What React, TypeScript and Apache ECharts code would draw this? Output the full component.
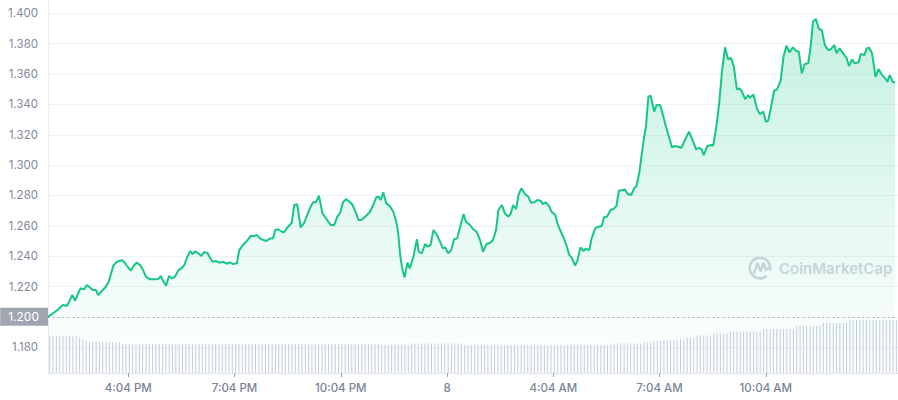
import React, { useEffect, useRef } from "react";
import * as echarts from "echarts";

// Minutes after 13:48 (start of the 24h window)
const TIMES = [
  0, 12, 17, 25, 32, 36, 41, 46, 50, 55,
  61, 66, 71, 76, 81, 85, 91, 98, 103, 106,
  111, 117, 125, 130, 134, 140, 145, 150, 156, 161,
  166, 173, 181, 187, 191, 195, 200, 205, 210, 215,
  221, 226, 231, 235, 241, 245, 249, 255, 260, 264,
  270, 274, 279, 285, 290, 297, 303, 308, 314, 320,
  324, 330, 337, 343, 348, 354, 359, 365, 370, 376,
  381, 385, 390, 396, 400, 405, 413, 417, 422, 428,
  434, 439, 445, 449, 454, 459, 465, 472, 479, 485,
  490, 495, 500, 505, 512, 516, 522, 526, 531, 539,
  545, 551, 556, 560, 564, 568, 573, 579, 585, 590,
  593, 597, 600, 604, 609, 613, 619, 625, 628, 633,
  639, 643, 648, 653, 658, 663, 669, 673, 678, 683,
  688, 693, 699, 704, 708, 715, 720, 726, 732, 737,
  743, 749, 754, 759, 763, 769, 774, 780, 784, 788,
  793, 797, 802, 808, 814, 818, 824, 829, 835, 838,
  843, 849, 853, 859, 864, 869, 874, 879, 883, 887,
  893, 897, 902, 907, 911, 917, 921, 927, 932, 938,
  942, 947, 953, 959, 963, 967, 974, 977, 982, 988,
  993, 997, 1002, 1006, 1010, 1013, 1017, 1021, 1027, 1031,
  1037, 1041, 1047, 1052, 1057, 1062, 1068, 1073, 1079, 1083,
  1086, 1092, 1098, 1103, 1107, 1111, 1117, 1123, 1127, 1133,
  1137, 1142, 1147, 1152, 1157, 1162, 1167, 1171, 1175, 1181,
  1186, 1189, 1195, 1201, 1206, 1212, 1216, 1220, 1224, 1230,
  1235, 1241, 1246, 1251, 1256, 1262, 1267, 1272, 1277, 1282,
  1288, 1292, 1296, 1301, 1306, 1311, 1316, 1322, 1326, 1332,
  1336, 1341, 1347, 1353, 1357, 1362, 1367, 1373, 1377, 1383,
  1387, 1391, 1396, 1402, 1407, 1412, 1418, 1422, 1426, 1431,
  1435,
];

const PRICES = [
  1.2000, 1.2034, 1.2049, 1.2078, 1.2073, 1.2100, 1.2144, 1.2106, 1.2144, 1.2188,
  1.2181, 1.2210, 1.2194, 1.2177, 1.2177, 1.2144, 1.2170, 1.2198, 1.2231, 1.2275,
  1.2341, 1.2363, 1.2374, 1.2357, 1.2335, 1.2304, 1.2335, 1.2357, 1.2341, 1.2308,
  1.2264, 1.2247, 1.2247, 1.2249, 1.2269, 1.2238, 1.2205, 1.2269, 1.2254, 1.2264,
  1.2308, 1.2320, 1.2341, 1.2386, 1.2434, 1.2414, 1.2432, 1.2418, 1.2401, 1.2425,
  1.2422, 1.2392, 1.2363, 1.2368, 1.2357, 1.2363, 1.2350, 1.2359, 1.2348, 1.2353,
  1.2440, 1.2473, 1.2500, 1.2532, 1.2532, 1.2539, 1.2517, 1.2506, 1.2500, 1.2517,
  1.2517, 1.2572, 1.2577, 1.2561, 1.2557, 1.2587, 1.2620, 1.2737, 1.2743, 1.2590,
  1.2620, 1.2671, 1.2726, 1.2755, 1.2755, 1.2798, 1.2682, 1.2643, 1.2605, 1.2605,
  1.2660, 1.2686, 1.2757, 1.2776, 1.2755, 1.2737, 1.2682, 1.2638, 1.2638, 1.2666,
  1.2689, 1.2737, 1.2788, 1.2791, 1.2770, 1.2820, 1.2748, 1.2730, 1.2693, 1.2627,
  1.2561, 1.2396, 1.2320, 1.2260, 1.2357, 1.2320, 1.2396, 1.2511, 1.2429, 1.2418,
  1.2480, 1.2462, 1.2473, 1.2572, 1.2546, 1.2506, 1.2451, 1.2458, 1.2418, 1.2440,
  1.2511, 1.2517, 1.2605, 1.2677, 1.2627, 1.2605, 1.2579, 1.2561, 1.2506, 1.2429,
  1.2480, 1.2488, 1.2506, 1.2572, 1.2704, 1.2737, 1.2682, 1.2660, 1.2682, 1.2737,
  1.2710, 1.2803, 1.2847, 1.2809, 1.2791, 1.2752, 1.2755, 1.2770, 1.2763, 1.2743,
  1.2755, 1.2730, 1.2693, 1.2675, 1.2605, 1.2561, 1.2517, 1.2462, 1.2407, 1.2392,
  1.2337, 1.2374, 1.2458, 1.2434, 1.2449, 1.2440, 1.2517, 1.2583, 1.2594, 1.2598,
  1.2656, 1.2660, 1.2704, 1.2715, 1.2730, 1.2831, 1.2836, 1.2840, 1.2809, 1.2803,
  1.2847, 1.2862, 1.2956, 1.3077, 1.3187, 1.3253, 1.3450, 1.3457, 1.3352, 1.3396,
  1.3396, 1.3341, 1.3253, 1.3187, 1.3117, 1.3126, 1.3121, 1.3114, 1.3165, 1.3198,
  1.3220, 1.3165, 1.3104, 1.3114, 1.3106, 1.3066, 1.3126, 1.3132, 1.3128, 1.3275,
  1.3407, 1.3626, 1.3776, 1.3697, 1.3707, 1.3648, 1.3499, 1.3506, 1.3490, 1.3435,
  1.3462, 1.3444, 1.3466, 1.3374, 1.3336, 1.3352, 1.3286, 1.3292, 1.3363, 1.3490,
  1.3499, 1.3554, 1.3714, 1.3787, 1.3743, 1.3776, 1.3754, 1.3747, 1.3605, 1.3666,
  1.3671, 1.3780, 1.3945, 1.3963, 1.3897, 1.3890, 1.3791, 1.3758, 1.3763, 1.3791,
  1.3737, 1.3769, 1.3737, 1.3704, 1.3653, 1.3697, 1.3671, 1.3677, 1.3732, 1.3725,
  1.3769, 1.3773, 1.3737, 1.3582, 1.3633, 1.3600, 1.3572, 1.3549, 1.3593, 1.3549,
  1.3543,
];

// Volume bars (relative units)
const VOLUMES = [
  37, 37, 37, 37, 37, 37, 37, 37, 37, 35, 33.5, 32, 31, 31, 31, 31,
  31, 31, 31, 31, 31, 31, 29, 29, 29, 29, 29, 29, 29, 29, 29, 29,
  29, 29, 29, 29, 29, 29, 29, 29, 29, 29, 29, 29, 29, 29, 29, 29,
  29, 29, 29, 29, 29, 29, 29, 29, 29, 29, 29, 29, 29, 29, 29, 29,
  29, 29, 29, 29, 29, 29, 29, 29, 29, 29, 29, 29, 29, 29, 29, 29,
  29, 29, 29, 29, 29, 29, 29, 29, 29, 29, 29, 29, 29, 29, 29, 29,
  29, 29, 29, 29, 28, 28, 28, 28, 28, 28, 28, 28, 28, 29.5, 29.5, 29.5,
  29.5, 29.5, 29.5, 29.5, 29.5, 29.5, 29.5, 29.5, 29.5, 29.5, 29.5, 29.5, 29.5, 28, 28, 28,
  28, 28, 28, 28, 28, 28, 28, 28, 28, 28, 28, 28, 28, 28, 28, 28,
  28, 28, 28, 28, 28, 28, 28, 28, 28, 28, 28, 28, 28, 28, 28, 28,
  28, 28, 28, 28, 28, 28, 28, 28, 28, 28, 29.5, 29.5, 29.5, 29.5, 29.5, 29.5,
  29.5, 29.5, 29.5, 30.5, 30.5, 30.5, 32, 32, 32, 33, 33, 33, 33, 34, 34, 34,
  35.5, 35.5, 35.5, 37.5, 37.5, 37.5, 37.5, 37.5, 39.5, 39.5, 39.5, 39.5, 39.5, 41.5, 41.5, 41.5,
  41.5, 41.5, 41.5, 41.5, 41.5, 41.5, 41.5, 44, 44, 44, 44, 44, 44, 44, 44, 44,
  44, 47, 47, 47, 47, 47, 47, 47, 47, 50, 50, 50, 50, 50, 50, 50,
  50, 53, 53, 53, 53, 53, 53, 53, 53, 53, 53, 53, 53, 53, 53, 53,
];

const OPEN_PRICE = 1.2;
const Y_TICKS = [1.18, 1.2, 1.22, 1.24, 1.26, 1.28, 1.3, 1.32, 1.34, 1.36, 1.38, 1.4];
const Y_LABELS = [1.18, 1.22, 1.24, 1.26, 1.28, 1.3, 1.32, 1.34, 1.36, 1.38, 1.4];
const X_TICKS = [136, 316, 496, 676, 856, 1036, 1216];
const X_TICK_LABELS = ["4:04 PM", "7:04 PM", "10:04 PM", "8", "4:04 AM", "7:04 AM", "10:04 AM"];

const FONT = 'Inter, "Noto Sans", sans-serif';
const LABEL_COLOR = "#808a9d";
const WATERMARK = "#d3d6e0";

export default function App() {
  const ref = useRef<HTMLDivElement>(null);

  useEffect(() => {
    if (!ref.current) return;
    const chart = echarts.init(ref.current, null, { renderer: "svg" });
    const n = Math.min(TIMES.length, PRICES.length);
    const points: number[][] = [];
    for (let i = 0; i < n; i++) points.push([TIMES[i], PRICES[i]]);

    chart.setOption({
      animation: false,
      backgroundColor: "#ffffff",
      textStyle: { fontFamily: FONT },
      grid: { left: 48, right: 0, top: 0, bottom: 27, containLabel: false },
      xAxis: [
        {
          type: "value",
          min: 0,
          max: 1440,
          axisLine: { show: true, onZero: false, lineStyle: { color: "#e3e6ec", width: 1 } },
          axisTick: { show: true, length: 4, customValues: X_TICKS, lineStyle: { color: "#9aa1ae" } },
          axisLabel: {
            customValues: X_TICKS,
            formatter: (v: number) => {
              const idx = X_TICKS.indexOf(Math.round(v));
              return idx >= 0 ? X_TICK_LABELS[idx] : "";
            },
            color: "#7a8497",
            fontSize: 11.5,
            fontWeight: 500,
            fontFamily: FONT,
            margin: 9,
          },
          splitLine: { show: false },
        },
        {
          type: "category",
          data: VOLUMES.map((_, i) => i),
          show: false,
          boundaryGap: true,
        },
      ],
      yAxis: [
        {
          type: "value",
          min: 1.163,
          max: 1.4088,
          position: "left",
          axisLine: { show: true, lineStyle: { color: "#eceff3" } },
          axisTick: { show: false, customValues: Y_TICKS },
          axisLabel: {
            customValues: Y_LABELS,
            formatter: (v: number) => v.toFixed(3),
            color: LABEL_COLOR,
            fontSize: 11.5,
            fontFamily: FONT,
            margin: 10,
          },
          splitLine: { show: true, lineStyle: { color: "#eff2f5", width: 1 } },
        },
        {
          type: "value",
          min: 0,
          max: 373,
          show: false,
          splitLine: { show: false },
        },
      ],
      series: [
        {
          type: "bar",
          xAxisIndex: 1,
          yAxisIndex: 1,
          data: VOLUMES,
          barWidth: 1,
          silent: true,
          itemStyle: { color: "#c6cde0" },
          z: 1,
        },
        {
          type: "line",
          xAxisIndex: 0,
          yAxisIndex: 0,
          data: points,
          showSymbol: false,
          symbol: "none",
          silent: true,
          lineStyle: { color: "#16c784", width: 2 },
          areaStyle: {
            color: new echarts.graphic.LinearGradient(0, 0, 0, 1, [
              { offset: 0, color: "rgba(22,199,132,0.36)" },
              { offset: 1, color: "rgba(22,199,132,0)" },
            ]),
          },
          z: 3,
          markLine: {
            silent: true,
            symbol: ["none", "none"],
            lineStyle: { color: "#8e94a2", type: [1, 4], width: 1.2 },
            label: {
              show: true,
              position: "start",
              distance: 0,
              formatter: OPEN_PRICE.toFixed(3),
              backgroundColor: "#a0a5b0",
              color: "#ffffff",
              fontSize: 12,
              fontFamily: FONT,
              lineHeight: 12,
              padding: [3, 9, 3, 8],
            },
            data: [{ yAxis: OPEN_PRICE }],
          },
        },
      ],
      graphic: [
        {
          type: "arc",
          silent: true,
          shape: { cx: 760, cy: 268, r: 10.3, startAngle: 0.85, endAngle: Math.PI * 2 + 0.25, clockwise: true },
          style: { stroke: WATERMARK, lineWidth: 2.6, fill: "none" },
        },
        {
          type: "polyline",
          silent: true,
          shape: {
            points: [
              [754, 273],
              [757.5, 263.5],
              [760.5, 271],
              [763.5, 263.5],
              [766, 270],
              [769.5, 267],
            ],
          },
          style: { stroke: WATERMARK, lineWidth: 2.4, fill: "none", lineJoin: "round", lineCap: "round" },
        },
        {
          type: "text",
          silent: true,
          x: 779,
          y: 268.5,
          style: {
            text: "CoinMarketCap",
            fill: WATERMARK,
            font: `600 15px ${FONT}`,
            textAlign: "left",
            verticalAlign: "middle",
            textVerticalAlign: "middle",
          },
        },
      ],
    });

    return () => chart.dispose();
  }, []);

  return (
    <div
      ref={ref}
      style={{ position: "fixed", left: 0, top: 0, width: 898, height: 400, background: "#ffffff" }}
    />
  );
}
